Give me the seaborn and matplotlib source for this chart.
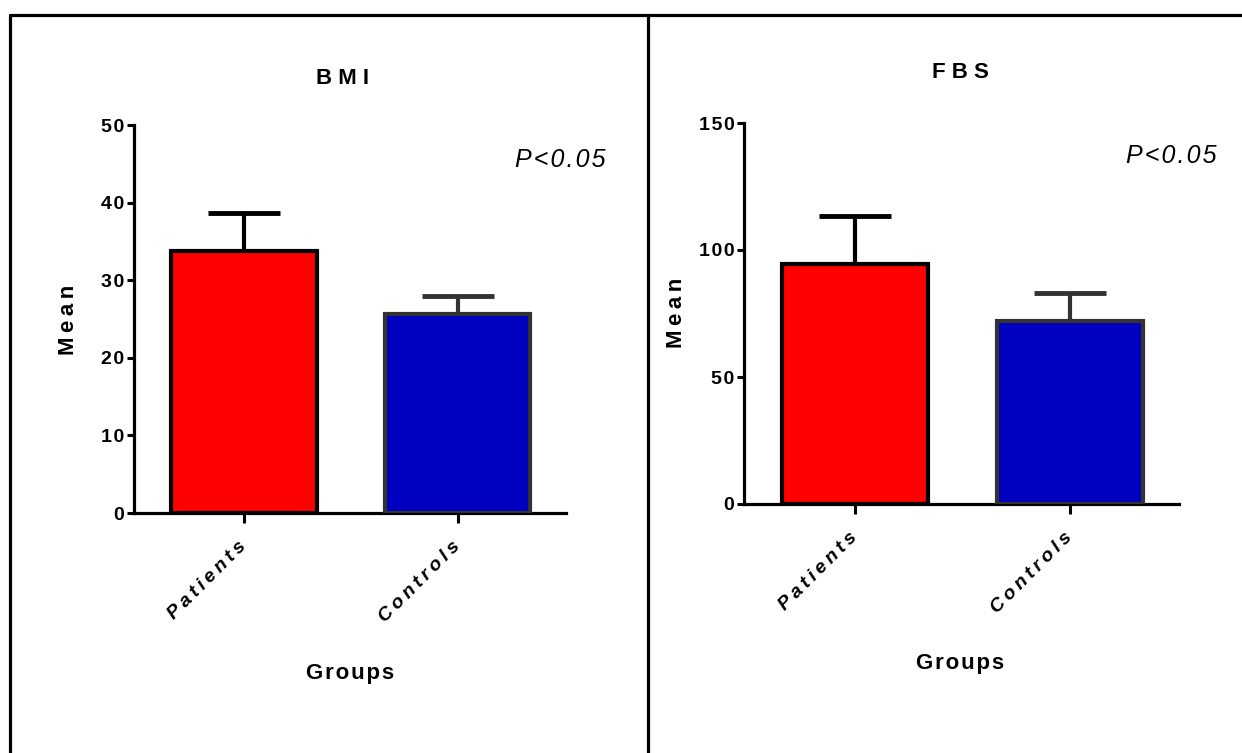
import matplotlib
matplotlib.use("Agg")
import matplotlib.pyplot as plt
from matplotlib.lines import Line2D
import seaborn as sns

# Group labels and summary statistics (mean and SD) for each panel
groups = ["Patients", "Controls"]
bmi_mean = [33.8, 25.7]
bmi_sd = [4.9, 2.2]
fbs_mean = [94.5, 72.2]
fbs_sd = [19.0, 10.8]
bmi_ticks = [0, 10, 20, 30, 40, 50]
fbs_ticks = [0, 50, 100, 150]

fill_colors = ["#FF0000", "#0000C0"]
edge_colors = ["#000000", "#333333"]

sns.set_theme(style="white")
FAM = ["Liberation Sans", "DejaVu Sans"]
plt.rcParams["font.family"] = FAM
plt.rcParams["text.color"] = "black"
plt.rcParams["xtick.color"] = "black"
plt.rcParams["ytick.color"] = "black"

W, H = 1242, 753
fig = plt.figure(figsize=(W / 100, H / 100), dpi=100)

HAIR = "\u200a"
THIN = "\u2009"


def spaced(s, sep=HAIR):
    return sep.join(s)


def px_box(x0, y0, x1, y1):
    return [x0 / W, 1 - y1 / H, (x1 - x0) / W, (y1 - y0) / H]


def fig_text(x, y, s, **kw):
    fig.text(x / W, 1 - y / H, s, ha="center", va="center", color="black", **kw)


# Panel frame lines
frame_kw = dict(color="black", linewidth=2.3, transform=fig.transFigure)
fig.add_artist(Line2D([10 / W, 1], [1 - 15 / H, 1 - 15 / H], **frame_kw))
fig.add_artist(Line2D([10 / W, 10 / W], [0, 1 - 15 / H], **frame_kw))
fig.add_artist(Line2D([648 / W, 648 / W], [0, 1 - 15 / H], **frame_kw))


def panel(box, means, sds, ticks, title, title_xy, groups_xy, mean_xy, p_xy):
    ax = fig.add_axes(box)
    sns.barplot(x=groups, y=means, hue=groups, palette=fill_colors,
                saturation=1, width=0.68, errorbar=None, legend=False, ax=ax,
                zorder=3)
    for patch, ec in zip(ax.patches, edge_colors):
        patch.set_edgecolor(ec)
        patch.set_linewidth(3)
    for i, (m, s) in enumerate(zip(means, sds)):
        ax.errorbar(i, m, yerr=[[0], [s]], fmt="none", ecolor=edge_colors[i],
                    elinewidth=3, capsize=26, capthick=3.5, zorder=2)
    ax.set_xlim(-0.515, 1.507)
    ax.set_ylim(0, ticks[-1])
    ax.set_yticks(ticks)
    ax.set_yticklabels([spaced(str(t)) for t in ticks], fontsize=14,
                       fontweight="bold")
    ax.set_xticks([0, 1])
    ax.set_xticklabels([spaced(g, THIN) for g in groups], fontsize=14,
                       fontweight="bold", fontstyle="italic", rotation=45,
                       ha="right", va="center", rotation_mode="anchor")
    ax.set_xlabel("")
    ax.set_ylabel("")
    sns.despine(ax=ax)
    for sp in ["left", "bottom"]:
        ax.spines[sp].set_linewidth(2.3)
        ax.spines[sp].set_color("black")
    ax.tick_params(axis="y", length=5, width=2.2, pad=2, left=True)
    ax.tick_params(axis="x", length=7.5, width=2.2, pad=15, bottom=True)
    ax.set_facecolor("none")
    fig_text(*title_xy, spaced(title, " "), fontsize=16, fontweight="bold")
    fig_text(*groups_xy, spaced("Groups"), fontsize=16, fontweight="bold")
    fig_text(*mean_xy, spaced("Mean", THIN), fontsize=16, fontweight="bold",
             rotation=90)
    fig_text(*p_xy, spaced("P<0.05"), fontsize=18, fontstyle="italic")
    return ax


panel(px_box(134, 125, 566, 513), bmi_mean, bmi_sd, bmi_ticks, "BMI",
      (342, 78), (350, 674), (68, 320), (560, 160))
panel(px_box(744, 123, 1179, 504), fbs_mean, fbs_sd, fbs_ticks, "FBS",
      (960, 73), (960, 663), (677, 313), (1171, 156))

fig.savefig("out.png", dpi=100, facecolor="white")
